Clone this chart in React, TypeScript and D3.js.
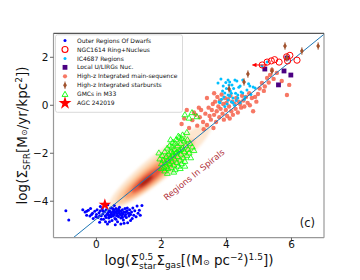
import React from "react";
import * as d3 from "d3";

const W = 360;
const H = 280;

// axes
const xDomain = [-1.32, 7.0];
const yDomain = [-5.52, 3.0];
const xTicks = [0, 2, 4, 6];
const yTicks = [-4, -2, 0, 2];

// fit line endpoints
const fitLineX = [-1.32, 7.0];
const fitLineY = [-6.19, 2.96];

// Outer regions of dwarfs
const dwarfs: [number, number][] = [
  [-0.94, -4.4], [-0.85, -4.78], [-0.42, -4.35], [-0.35, -4.45], [-0.3, -4.58], [-0.25, -4.38], [-0.2, -4.62],
  [-0.18, -4.3], [-0.12, -4.5], [-0.1, -4.72], [-0.05, -4.42], [0.0, -4.55], [0.02, -4.35], [0.05, -4.68],
  [0.08, -4.48], [0.1, -4.88], [0.12, -4.4], [0.15, -4.6], [0.18, -4.3], [0.2, -4.52], [0.22, -4.75],
  [0.25, -4.44], [0.27, -4.62], [0.3, -4.35], [0.32, -4.55], [0.34, -4.95], [0.36, -4.47], [0.38, -4.7],
  [0.4, -4.4], [0.42, -4.58], [0.44, -4.28], [0.46, -4.5], [0.48, -4.8], [0.5, -4.43], [0.52, -4.62],
  [0.54, -4.36], [0.55, -4.55], [0.57, -4.72], [0.58, -4.45], [0.6, -4.3], [0.62, -4.6], [0.63, -4.5],
  [0.65, -4.85], [0.66, -4.4], [0.68, -4.65], [0.7, -4.48], [0.71, -4.25], [0.73, -4.55], [0.75, -4.7],
  [0.76, -4.42], [0.78, -4.6], [0.8, -4.35], [0.82, -4.52], [0.83, -4.78], [0.85, -4.45], [0.87, -4.62],
  [0.88, -4.3], [0.9, -4.55], [0.92, -4.68], [0.94, -4.4], [0.96, -4.9], [0.98, -4.5], [1.0, -4.62],
  [1.02, -4.35], [1.05, -4.55], [1.08, -4.45], [1.1, -4.72], [1.12, -4.28], [1.15, -4.58], [1.18, -4.4],
  [1.22, -4.65], [1.25, -4.2], [1.28, -4.5], [1.32, -4.38], [1.35, -4.58], [1.4, -4.18],
  [0.35, -4.52], [0.45, -4.65], [0.55, -4.48], [0.65, -4.58], [0.72, -4.4], [0.8, -4.68], [0.6, -4.75],
  [0.4, -4.85], [0.5, -4.3], [0.68, -4.32], [0.28, -4.85], [0.2, -4.4], [0.1, -4.6], [-0.02, -4.65],
  [0.85, -4.92], [0.95, -4.28], [1.05, -4.8], [0.75, -4.95], [0.58, -4.98], [0.15, -4.75], [-0.15, -4.55],
  [-0.3, -4.42], [0.3, -4.68], [0.42, -4.44], [0.62, -4.4], [0.9, -4.45], [1.0, -4.5], [0.78, -4.5],
  [0.48, -4.56], [0.38, -4.6], [0.35, -4.15], [0.55, -4.18], [0.12, -4.22],
];

// NGC1614 ring + nucleus
const ngc1614: [number, number][] = [
  [5.1, 1.68], [5.25, 1.8], [5.38, 1.85], [5.48, 1.9], [5.62, 1.8], [5.85, 2.02], [5.95, 2.08], [5.88, 1.85], [6.17, 1.88],
];
const arrowFrom: [number, number] = [5.25, 1.68];
const arrowTo: [number, number] = [4.8, 1.68];

// IC4687 regions
const ic4687: [number, number][] = [
  [3.74, 0.93], [3.77, 0.14], [3.8, 0.1], [3.83, 1.1], [3.88, 0.6], [3.9, 0.8], [3.92, 0.35], [3.95, 0.51],
  [3.98, 0.95], [4.0, 0.7], [4.02, 0.05], [4.05, 1.05], [4.05, 0.22], [4.05, 0.43], [4.08, 0.85], [4.1, 0.39],
  [4.1, 0.97], [4.12, 0.6], [4.15, 0.15], [4.17, 0.85], [4.2, 0.3], [4.2, 0.1], [4.22, 0.7], [4.26, 1.05],
  [4.28, 0.5], [4.3, 0.2], [4.32, 1.01], [4.35, 0.43], [4.35, 0.3], [4.38, 0.75], [4.42, 0.8], [4.42, 0.1],
  [4.45, 0.55], [4.5, 1.05], [4.5, 0.51], [4.55, 0.25], [4.57, 0.35], [4.63, 0.64], [4.68, 0.9], [4.72, 0.8],
  [4.75, 0.45], [4.82, 0.76], [4.88, 0.72], [5.09, 1.64], [5.25, 1.8], [3.85, 0.25], [3.95, -0.05],
  [4.15, 0.5], [4.25, 0.0],
];

// Local U/LIRGs nuclei
const ulirgs: [number, number][] = [
  [5.18, 1.51], [5.77, 1.43], [5.98, 1.26], [5.6, 0.85], [5.86, 1.97],
];

// High-z integrated main-sequence
const highzMS: [number, number][] = [
  [2.62, -0.78], [2.7, -0.55], [2.85, -0.95], [2.95, -0.62], [3.05, -0.4], [3.1, -0.85], [3.18, -0.5],
  [3.22, -0.2], [3.28, -0.7], [3.35, -0.35], [3.4, -0.82], [3.45, -0.1], [3.48, -0.45], [3.52, -0.6],
  [3.55, -0.2], [3.58, 0.05], [3.62, -0.4], [3.65, 0.15], [3.68, -0.7], [3.7, -0.25], [3.72, 0.35],
  [3.75, -0.05], [3.78, -0.5], [3.8, 0.2], [3.82, -0.15], [3.85, 0.45], [3.88, -0.35], [3.9, 0.05],
  [3.92, -0.6], [3.95, 0.3], [3.98, -0.2], [4.0, 0.1], [4.02, -0.45], [4.05, 0.25], [4.08, -0.05],
  [4.1, -0.55], [4.12, 0.4], [4.15, -0.25], [4.18, 0.15], [4.2, -0.4], [4.25, 0.05], [4.28, -0.15],
  [4.3, 0.3], [4.35, -0.3], [4.38, 0.15], [4.42, 0.05], [4.45, -0.1], [4.48, 0.4], [4.52, 0.2],
  [4.55, -0.05], [4.6, 0.35], [4.65, 0.1], [4.7, 0.5], [4.72, 0.0], [4.78, 0.3], [4.82, -0.25],
  [4.88, 0.35], [4.92, 0.15], [4.97, 0.47], [5.02, 0.7], [5.09, 0.93], [5.15, 0.6], [5.18, 0.78],
  [5.25, 1.14], [5.3, 0.95], [5.34, 1.26], [5.4, 1.47], [5.45, 1.1], [5.55, 1.35], [5.7, 1.01],
  [5.86, 0.43], [5.93, 0.85], [3.3, -1.0], [3.6, -0.95], [3.15, -0.1], [3.4, 0.3], [3.62, 0.5],
  [3.0, -0.3], [2.78, -0.2],
];

// High-z integrated starbursts
const highzSB: [number, number][] = [
  [5.8, 2.47], [6.32, 2.26], [6.82, 2.47], [4.66, 1.3], [5.4, 1.43], [4.54, 0.97], [4.08, 0.68], [5.86, 1.97],
];
const sbErr = 0.16;

// GMCs in M33
const gmcs: [number, number][] = [
  [1.92, -2.0], [1.95, -2.25], [2.0, -2.45], [2.02, -2.1], [2.05, -2.3], [2.08, -2.6], [2.1, -1.95],
  [2.1, -2.75], [2.12, -2.4], [2.15, -2.15], [2.15, -2.55], [2.18, -1.8], [2.2, -2.3], [2.2, -2.65],
  [2.22, -2.05], [2.25, -2.45], [2.25, -1.7], [2.28, -2.2], [2.3, -2.6], [2.3, -1.95], [2.32, -2.35],
  [2.35, -1.55], [2.35, -2.1], [2.38, -2.5], [2.4, -1.85], [2.4, -2.25], [2.42, -2.7], [2.45, -1.45],
  [2.45, -2.0], [2.48, -2.4], [2.5, -1.7], [2.5, -2.15], [2.52, -2.55], [2.55, -1.9], [2.55, -1.35],
  [2.58, -2.3], [2.6, -1.6], [2.6, -2.05], [2.62, -2.45], [2.65, -1.8], [2.65, -1.25], [2.68, -2.2],
  [2.7, -1.5], [2.7, -1.95], [2.72, -2.35], [2.75, -1.7], [2.78, -1.15], [2.78, -2.1], [2.8, -1.45],
  [2.82, -1.85], [2.85, -2.0], [2.88, -1.6], [2.9, -2.2], [2.95, -1.75], [3.0, -1.9], [2.32, -1.75],
  [2.42, -1.6], [2.52, -1.3], [2.62, -1.4], [2.28, -1.45], [2.18, -2.85], [2.38, -2.8], [2.58, -2.65],
  [2.72, -2.55], [2.0, -2.65], [2.48, -1.95], [2.35, -2.0], [2.6, -1.85],
  [2.72, -0.41], [2.94, -0.32], [3.09, -0.49], [2.85, -0.55],
];

// AGC 242019
const agc: [number, number] = [0.26, -4.15];

// Regions in spirals density levels (light to dark)
const kdeCx = [1.95, 1.82, 1.68, 1.56, 1.52];
const kdeCy = [-2.55, -2.76, -2.95, -3.1, -3.17];
const kdeHalfLen = [1.55, 1.2, 0.82, 0.48, 0.22];
const kdeHalfWid = [0.68, 0.54, 0.4, 0.27, 0.14];
const kdeColors = ["#fde6cf", "#fccca2", "#f99e6c", "#e4553a", "#ad1a10"];

const legendLabels = [
  "Outer Regions Of Dwarfs",
  "NGC1614 Ring+Nucleus",
  "IC4687 Regions",
  "Local U/LIRGs Nuc.",
  "High-z Integrated main-sequence",
  "High-z Integrated starbursts",
  "GMCs in M33",
  "AGC 242019",
];

const FONT = "DejaVu Sans, sans-serif";

export default function App() {
  const x = d3.scaleLinear().domain(xDomain).range([53.5, 324]);
  const y = d3.scaleLinear().domain(yDomain).range([237.7, 33.3]);
  const x0 = x.range()[0], x1 = x.range()[1];
  const y0 = y.range()[1], y1 = y.range()[0];

  const slopePx = (y(fitLineY[1]) - y(fitLineY[0])) / (x(fitLineX[1]) - x(fitLineX[0]));
  const angleDeg = (Math.atan(slopePx) * 180) / Math.PI;
  const slopeData = (fitLineY[1] - fitLineY[0]) / (fitLineX[1] - fitLineX[0]);

  const line = d3.line<number>().x((d) => x(fitLineX[d])).y((d) => y(fitLineY[d]));

  const tri = d3.symbol().type(d3.symbolTriangle).size(15)() as string;
  const star = d3.symbol().type(d3.symbolStar).size(48)() as string;
  const starLeg = d3.symbol().type(d3.symbolStar).size(52)() as string;
  const diamond = "M0,-3L1.9,0L0,3L-1.9,0Z";

  const ellipses = kdeCx.map((cx, i) => {
    const L = kdeHalfLen[i];
    const px1 = x(cx - L), py1 = y(kdeCy[i] - slopeData * L);
    const px2 = x(cx + L), py2 = y(kdeCy[i] + slopeData * L);
    const rx = Math.hypot(px2 - px1, py2 - py1) / 2;
    const ry = (y(0) - y(kdeHalfWid[i])) * Math.cos(Math.atan(slopePx));
    return { cx: x(cx), cy: y(kdeCy[i]), rx, ry, color: kdeColors[i] };
  });

  const legX = 65;
  const legY0 = 40.5;
  const legDy = 8.95;

  const legendMarker = (i: number, cy: number) => {
    switch (i) {
      case 0:
        return <circle cx={legX} cy={cy} r={1.5} fill="#0000ff" />;
      case 1:
        return <circle cx={legX} cy={cy} r={3} fill="none" stroke="#ff0000" strokeWidth={1.1} />;
      case 2:
        return <circle cx={legX} cy={cy} r={1.5} fill="#00bfff" />;
      case 3:
        return <rect x={legX - 2.4} y={cy - 2.4} width={4.8} height={4.8} fill="#4b0082" />;
      case 4:
        return <circle cx={legX} cy={cy} r={2.1} fill="#f4604a" fillOpacity={0.85} />;
      case 5:
        return (
          <g transform={`translate(${legX},${cy})`}>
            <line x1={0} x2={0} y1={-3.8} y2={3.8} stroke="#a0522d" strokeWidth={0.8} />
            <path d={diamond} fill="#a0522d" />
          </g>
        );
      case 6:
        return <path d={tri} transform={`translate(${legX},${cy + 0.5})`} fill="none" stroke="#00ff00" strokeWidth={0.9} />;
      default:
        return <path d={starLeg} transform={`translate(${legX},${cy})`} fill="#ff0000" />;
    }
  };

  return (
    <svg width={W} height={H} style={{ position: "fixed", left: 0, top: 0, background: "#fff" }} fontFamily={FONT}>
      <defs>
        <clipPath id="plotclip">
          <rect x={x0} y={y0} width={x1 - x0} height={y1 - y0} />
        </clipPath>
        <filter id="blur" x="-20%" y="-20%" width="140%" height="140%">
          <feGaussianBlur stdDeviation={1.8} />
        </filter>
        <marker id="arrowhead" viewBox="0 0 10 10" refX={9} refY={5} markerWidth={5} markerHeight={4.5} orient="auto">
          <path d="M0,0L10,5L0,10Z" fill="#ff0000" />
        </marker>
      </defs>
      <rect x={0} y={0} width={W} height={H} fill="#fff" />

      <g clipPath="url(#plotclip)">
        {/* density */}
        <g filter="url(#blur)">
          {ellipses.map((e, i) => (
            <ellipse key={i} cx={e.cx} cy={e.cy} rx={e.rx} ry={e.ry} fill={e.color}
              transform={`rotate(${angleDeg},${e.cx},${e.cy})`} />
          ))}
        </g>

        {/* dwarfs */}
        {dwarfs.map((d, i) => (
          <circle key={"dw" + i} cx={x(d[0])} cy={y(d[1])} r={1.5} fill="#0000ff" />
        ))}

        {/* main-sequence */}
        {highzMS.map((d, i) => (
          <circle key={"ms" + i} cx={x(d[0])} cy={y(d[1])} r={2.2} fill="#f4604a" fillOpacity={0.85} />
        ))}

        {/* IC4687 */}
        {ic4687.map((d, i) => (
          <circle key={"ic" + i} cx={x(d[0])} cy={y(d[1])} r={1.5} fill="#00bfff" />
        ))}

        {/* GMCs */}
        {gmcs.map((d, i) => (
          <path key={"gm" + i} d={tri} transform={`translate(${x(d[0])},${y(d[1])})`} fill="none" stroke="#00ff00" strokeWidth={0.8} />
        ))}

        {/* fit line */}
        <path d={line([0, 1]) as string} fill="none" stroke="#1f77b4" strokeWidth={1} />

        {/* ULIRGs */}
        {ulirgs.map((d, i) => (
          <rect key={"ul" + i} x={x(d[0]) - 2.4} y={y(d[1]) - 2.4} width={4.8} height={4.8} fill="#4b0082" />
        ))}

        {/* NGC1614 */}
        <line x1={x(arrowFrom[0])} y1={y(arrowFrom[1])} x2={x(arrowTo[0])} y2={y(arrowTo[1])}
          stroke="#ff0000" strokeWidth={1} markerEnd="url(#arrowhead)" />
        {ngc1614.map((d, i) => (
          <circle key={"ng" + i} cx={x(d[0])} cy={y(d[1])} r={3.1} fill="none" stroke="#ff0000" strokeWidth={1} />
        ))}

        {/* starbursts */}
        {highzSB.map((d, i) => (
          <g key={"sb" + i} transform={`translate(${x(d[0])},${y(d[1])})`}>
            <line x1={0} x2={0} y1={y(d[1] + sbErr) - y(d[1])} y2={y(d[1] - sbErr) - y(d[1])} stroke="#a0522d" strokeWidth={0.8} />
            <path d={diamond} fill="#a0522d" />
          </g>
        ))}

        {/* AGC */}
        <path d={star} transform={`translate(${x(agc[0])},${y(agc[1])})`} fill="#ff0000" />
      </g>

      {/* region label */}
      <text transform={`translate(196,177) rotate(${angleDeg})`} textAnchor="middle" fontSize={8.5} fill="#b0303a">
        Regions In Spirals
      </text>

      {/* legend */}
      <rect x={55.5} y={34.8} width={127} height={77.5} rx={2} fill="#fff" fillOpacity={0.85} stroke="#d0d0d0" strokeWidth={0.8} />
      {legendLabels.map((lab, i) => {
        const cy = legY0 + i * legDy;
        return (
          <g key={"lg" + i}>
            {legendMarker(i, cy)}
            <text x={77} y={cy} dy="0.35em" fontSize={6} fill="#111">{lab}</text>
          </g>
        );
      })}

      {/* frame */}
      <line x1={x0} x2={x0} y1={y0} y2={y1} stroke="#999" strokeWidth={1.2} />
      <line x1={x1} x2={x1} y1={y0} y2={y1} stroke="#999" strokeWidth={1.2} />
      <line x1={x0} x2={x1} y1={y1} y2={y1} stroke="#999" strokeWidth={1.2} />
      <line x1={x0} x2={x1} y1={y0} y2={y0} stroke="#555" strokeWidth={1.2} />

      {/* ticks */}
      {xTicks.map((t) => (
        <g key={"xt" + t}>
          <line x1={x(t)} x2={x(t)} y1={y1} y2={y1 + 3.5} stroke="#555" strokeWidth={0.9} />
          <text x={x(t)} y={248} textAnchor="middle" fontSize={10.5} fill="#111">{t}</text>
        </g>
      ))}
      {yTicks.map((t) => (
        <g key={"yt" + t}>
          <line x1={x0 - 3.5} x2={x0} y1={y(t)} y2={y(t)} stroke="#555" strokeWidth={0.9} />
          <text x={48.5} y={y(t)} dy="0.36em" textAnchor="end" fontSize={10.5} fill="#111">{t < 0 ? "\u2212" + Math.abs(t) : t}</text>
        </g>
      ))}

      {/* (c) */}
      <text x={315} y={227} textAnchor="end" fontSize={11.5} fill="#111">(c)</text>

      {/* x label */}
      <text x={189} y={265} textAnchor="middle" fontSize={13.5} fill="#111">
        log(Σ
        <tspan fontSize={9} dy={-5.5}>0.5</tspan>
        <tspan fontSize={9} dx={-14.3} dy={9}>star</tspan>
        <tspan dy={-3.5}>Σ</tspan>
        <tspan fontSize={9} dy={3}>gas</tspan>
        <tspan dy={-3}>[(M</tspan>
        <tspan fontSize={8}>⊙</tspan>
        <tspan> pc</tspan>
        <tspan fontSize={9} dy={-5.5}>−2</tspan>
        <tspan dy={5.5}>)</tspan>
        <tspan fontSize={9} dy={-5.5}>1.5</tspan>
        <tspan dy={5.5}>])</tspan>
      </text>

      {/* y label */}
      <text transform="translate(27,135.5) rotate(-90)" textAnchor="middle" fontSize={13.5} fill="#111">
        log(Σ
        <tspan fontSize={9} dy={3}>SFR</tspan>
        <tspan dy={-3}>[M</tspan>
        <tspan fontSize={8}>⊙</tspan>
        <tspan>/yr/kpc</tspan>
        <tspan fontSize={9} dy={-5.5}>2</tspan>
        <tspan dy={5.5}>])</tspan>
      </text>
    </svg>
  );
}
